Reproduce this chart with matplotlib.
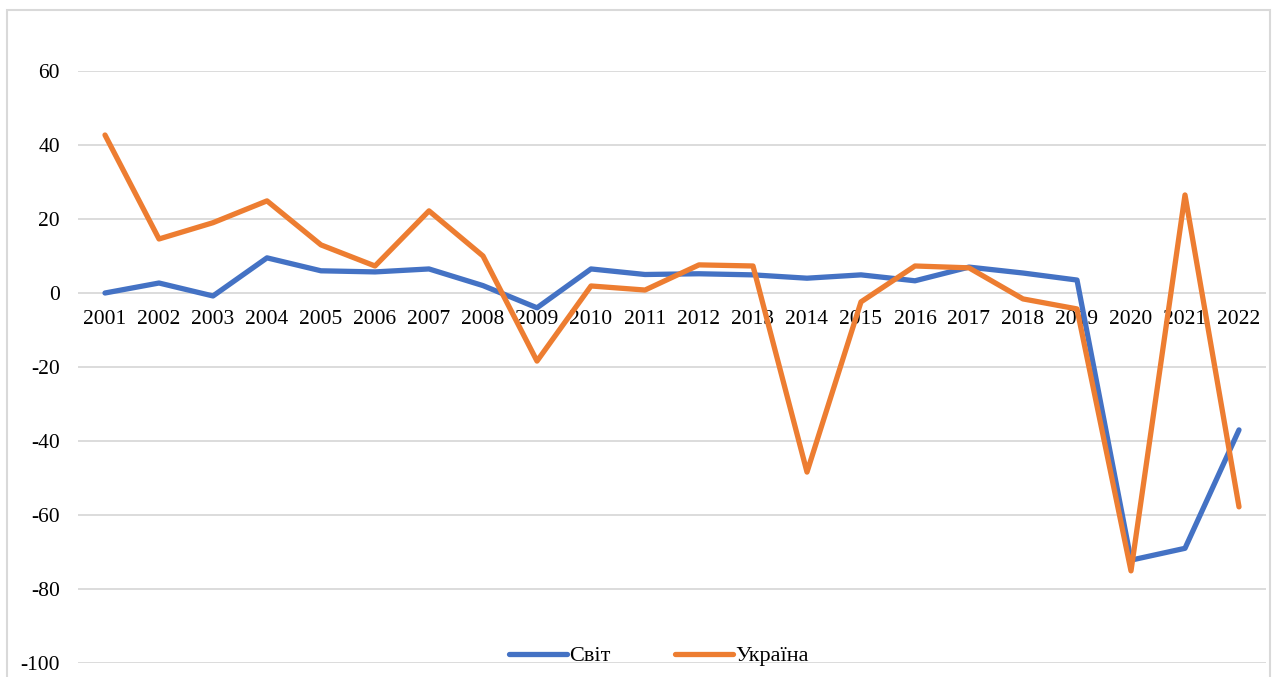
import matplotlib.pyplot as plt
from matplotlib.patches import Rectangle

years = [str(y) for y in range(2001, 2023)]
svit = [0.0, 2.7, -0.8, 9.5, 6.0, 5.7, 6.5, 2.0, -4.0, 6.5, 5.0, 5.2, 4.9,
        4.0, 4.9, 3.3, 7.0, 5.4, 3.5, -72.2, -69.0, -37.0]
ukraina = [42.7, 14.6, 19.0, 24.9, 13.0, 7.3, 22.2, 10.0, -18.4, 1.9, 0.8,
           7.6, 7.3, -48.4, -2.4, 7.3, 6.8, -1.6, -4.3, -75.1, 26.5, -57.8]
yticks = [60, 40, 20, 0, -20, -40, -60, -80, -100]

plt.rcParams['font.family'] = ['Liberation Serif', 'DejaVu Serif']

W, H = 1274, 677
fig = plt.figure(figsize=(W / 100, H / 100), dpi=100)
ax = fig.add_axes([78 / W, (H - 663) / H, (1266 - 78) / W, (663 - 71) / H])

x = range(len(years))
ax.plot(x, svit, color='#4472C4', lw=3.8, solid_capstyle='round',
        solid_joinstyle='round', label='Світ', zorder=3)
ax.plot(x, ukraina, color='#ED7D31', lw=3.8, solid_capstyle='round',
        solid_joinstyle='round', label='Україна', zorder=4)

ax.set_xlim(-0.5, len(years) - 0.5)
ax.set_ylim(-100, 60)
ax.set_yticks(yticks)
ax.set_yticklabels([str(v) for v in yticks])
ax.set_xticks(list(x))
ax.set_xticklabels(years)
ax.yaxis.grid(True, color='#d9d9d9', lw=1.3)
ax.set_axisbelow(True)
for s in ax.spines.values():
    s.set_visible(False)
ax.spines['bottom'].set_position(('data', 0))
ax.tick_params(axis='x', length=0, pad=12, labelsize=15.5)
ax.tick_params(axis='y', length=0, pad=13, labelsize=15.5)

fig.legend(loc='center', bbox_to_anchor=(659 / W, (H - 656) / H), ncol=2,
           frameon=False, fontsize=16, handlelength=2.6, handletextpad=0.1,
           columnspacing=2.9)

fig.patches.append(Rectangle((7 / W, -0.1), (1270 - 7) / W, (H - 10) / H + 0.1,
                             transform=fig.transFigure, fill=False,
                             edgecolor='#d9d9d9', lw=1.5))

fig.savefig('out.png', dpi=100)
